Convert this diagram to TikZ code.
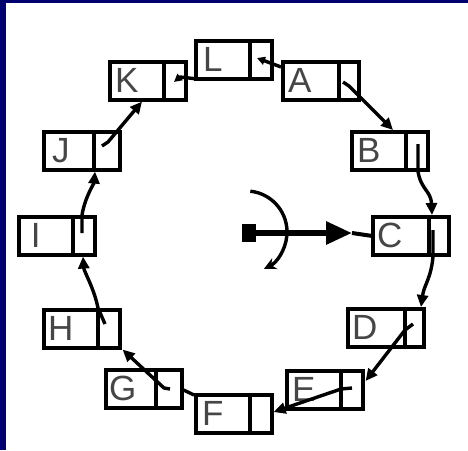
\documentclass[tikz,border=0pt]{standalone}
\usepackage{fontspec}
\setmainfont{Liberation Sans}
\usetikzlibrary{arrows.meta,calc}
\definecolor{navyband}{RGB}{0,0,110}
\definecolor{lettergray}{RGB}{70,70,70}
\begin{document}
\begin{tikzpicture}[x=1pt,y=-1pt,
  cellbox/.style={draw, line width=3.6pt, minimum width=76pt, minimum height=38pt,
    text width=76pt, inner sep=0pt, align=left, anchor=north west,
    font=\fontsize{35}{35}\selectfont, text=lettergray},
  divline/.style={line width=3.6pt},
  linkline/.style={line width=3.4pt, line join=round},
  endhead/.style={-{Triangle[length=12pt,width=11pt]}},
  starthead/.style={{Triangle[length=8pt,width=8pt]}-}]
\useasboundingbox (0,0) rectangle (468,450);
\fill[white] (0,0) rectangle (468,450);
\fill[navyband] (0,0) rectangle (6,450);
\fill[navyband] (0,0) rectangle (468,3);

\node[cellbox] (A) at (281,60)  {\hspace*{1pt}\makebox[32pt]{A}};
\node[cellbox] (B) at (350,130) {\hspace*{1pt}\makebox[32pt]{B}};
\node[cellbox] (C) at (371,215) {\hspace*{1pt}\makebox[32pt]{C}};
\node[cellbox] (D) at (346,307) {\hspace*{1pt}\makebox[32pt]{D}};
\node[cellbox] (E) at (285,369) {\hspace*{1pt}\makebox[32pt]{E}};
\node[cellbox] (F) at (194,393) {\hspace*{1pt}\makebox[32pt]{F}};
\node[cellbox] (G) at (104,368) {\hspace*{1pt}\makebox[32pt]{G}};
\node[cellbox] (H) at (42,308)  {\hspace*{1pt}\makebox[32pt]{H}};
\node[cellbox] (I) at (17,215)  {\hspace*{1pt}\makebox[32pt]{I}};
\node[cellbox] (J) at (42,130)  {\hspace*{1pt}\makebox[32pt]{J}};
\node[cellbox] (K) at (108,60)  {\hspace*{1pt}\makebox[32pt]{K}};
\node[cellbox] (L) at (194,39)  {\hspace*{1pt}\makebox[32pt]{L}};

\foreach \n/\d in {A/58,B/56,C/58,D/59,E/56,F/56,G/52,H/56,I/56,J/52,K/56,L/56}
  \draw[divline] ($(\n.north west)+(\d,0)$) -- ($(\n.south west)+(\d,0)$);

% links
\draw[linkline,endhead] ($(A.north west)+(62,22)$) -- ($(A.north west)+(68,26)$) -- ($(B.north west)+(43,0)$);
\draw[linkline,endhead] ($(B.north west)+(68,14)$) -- ($(B.south west)+(68,0)$)
  .. controls ($(B.south west)+(71,18)$) and ($(C.north west)+(60,-24)$) .. ($(C.north west)+(61,0)$);
\draw[linkline,endhead] ($(C.north west)+(62,15)$) -- ($(C.south west)+(62,0)$)
  .. controls ($(C.south west)+(60,22)$) and ($(D.north west)+(78,-22)$) .. ($(D.north west)+(75,0)$);
\draw[linkline,endhead] ($(D.north west)+(67,17)$) -- ($(D.north west)+(59,23)$) -- ($(E.north east)+(1,12)$);
\draw[linkline,endhead] ($(E.north west)+(67,19)$) -- ($(E.north west)+(56,20)$) -- ($(F.north east)+(0,19)$);
\draw[linkline] ($(G.north east)+(0,22)$) -- ($(F.north west)+(0,2)$);
\draw[linkline,endhead] ($(G.north west)+(66,21)$) -- ($(G.north west)+(60,20)$) -- ($(H.south east)+(1,0)$);
\draw[linkline,endhead] ($(H.north west)+(63,16)$) -- ($(H.north west)+(56,0)$)
  .. controls ($(H.north west)+(52,-20)$) and ($(I.south west)+(67,15)$) .. ($(I.south west)+(66,0)$);
\draw[linkline,endhead] ($(I.north west)+(65,18)$) -- ($(I.north west)+(65,0)$)
  .. controls ($(I.north west)+(68,-18)$) and ($(J.south west)+(52,12)$) .. ($(J.south west)+(53,0)$);
\draw[linkline,endhead] ($(J.north west)+(60,16)$) -- ($(J.north west)+(66,12)$) -- ($(K.south west)+(34,0)$);
\draw[linkline,starthead] ($(K.north west)+(66,22)$) -- ($(K.north west)+(72,17)$) -- ($(L.south west)+(0,-2)$);
\draw[linkline,starthead] ($(L.north west)+(63,19)$) -- ($(A.north west)+(0,7)$);

% centre pointer
\coordinate (hub) at (242,233);
\coordinate (mid) at (352,233);
\draw[line width=6pt, {Square[length=14pt,width=18pt]}-{Triangle[length=26pt,width=22pt]}] (hub) -- (mid);
\draw[line width=4pt] (mid) -- (C.west);
\coordinate (arcstart) at (250.3,191.2);
\draw[line width=3.4pt, -{Stealth[length=12pt,width=12pt]}] (arcstart) arc[start angle=84, end angle=-64, radius=41pt];
\end{tikzpicture}
\end{document}
